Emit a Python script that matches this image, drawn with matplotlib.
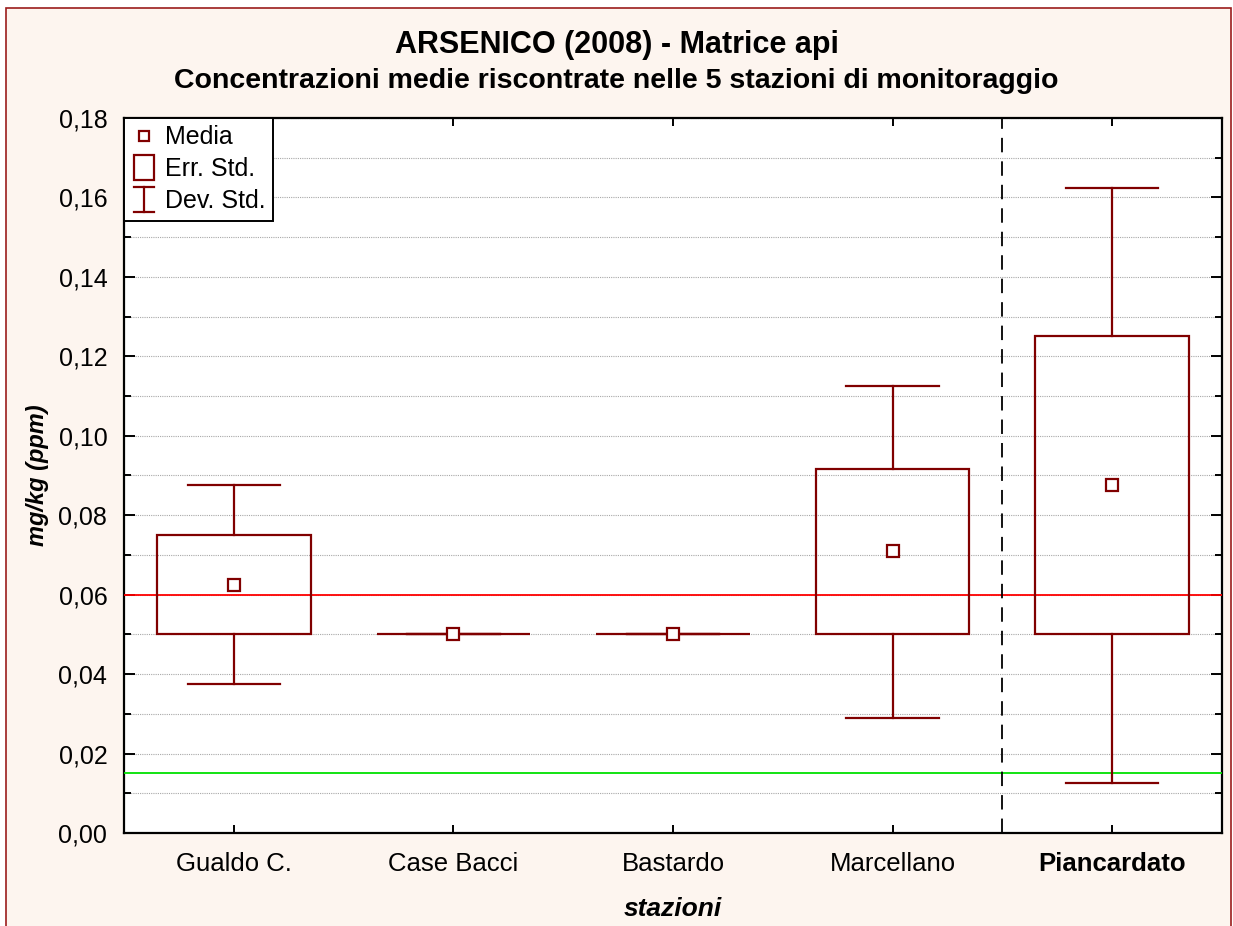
import matplotlib
matplotlib.use("Agg")
import matplotlib.pyplot as plt
from matplotlib.patches import Rectangle
from matplotlib.lines import Line2D
from matplotlib.legend_handler import HandlerBase
from matplotlib.ticker import MultipleLocator, FuncFormatter

plt.rcParams['font.family'] = ['Liberation Sans', 'DejaVu Sans']

# Station data: mean, standard error box bounds, standard deviation whiskers
stations = ["Gualdo C.", "Case Bacci", "Bastardo", "Marcellano", "Piancardato"]
mean = [0.0625, 0.050, 0.050, 0.071, 0.0875]
se_low = [0.050, 0.050, 0.050, 0.050, 0.050]
se_high = [0.075, 0.050, 0.050, 0.0917, 0.125]
sd_low = [0.0375, 0.050, 0.050, 0.029, 0.0125]
sd_high = [0.0875, 0.050, 0.050, 0.1125, 0.1625]

limit_red = 0.060
limit_green = 0.015
y_ticks = [0.00, 0.02, 0.04, 0.06, 0.08, 0.10, 0.12, 0.14, 0.16, 0.18]

DARK = "#800000"

fig = plt.figure(figsize=(12.33, 9.26), dpi=100)
fig.patch.set_facecolor("white")
fig.patches.append(Rectangle((6 / 1233, -0.01), (1231 - 6) / 1233, 1.01 - 8 / 926,
                             transform=fig.transFigure, facecolor="#FDF5EF",
                             edgecolor="#9B1C1C", linewidth=1.2, zorder=-10))

ax = fig.add_axes([124 / 1233, 1 - 833 / 926, (1222 - 124) / 1233, (833 - 118) / 926])
ax.set_facecolor("white")

xs = list(range(1, len(stations) + 1))
box_hw = 0.35
cap_hw = 0.21
for x, m, lo, hi, dlo, dhi in zip(xs, mean, se_low, se_high, sd_low, sd_high):
    ax.add_patch(Rectangle((x - box_hw, lo), 2 * box_hw, hi - lo, facecolor="none",
                           edgecolor=DARK, linewidth=1.6, zorder=4))
    ax.plot([x, x], [hi, dhi], color=DARK, lw=1.6, zorder=4)
    ax.plot([x, x], [lo, dlo], color=DARK, lw=1.6, zorder=4)
    ax.plot([x - cap_hw, x + cap_hw], [dhi, dhi], color=DARK, lw=1.6, zorder=4)
    ax.plot([x - cap_hw, x + cap_hw], [dlo, dlo], color=DARK, lw=1.6, zorder=4)
    ax.plot([x], [m], marker="s", markersize=8.5, markerfacecolor="white",
            markeredgecolor=DARK, markeredgewidth=1.6, zorder=6)

ax.axhline(limit_red, color="#FF0000", lw=1.3, zorder=3)
ax.axhline(limit_green, color="#00E000", lw=1.3, zorder=3)
ax.axvline(4.5, color="black", lw=1.3, dashes=(8, 5), zorder=3)

ax.set_xlim(0.5, 5.5)
ax.set_ylim(0, 0.18)
ax.set_yticks(y_ticks)
ax.yaxis.set_minor_locator(MultipleLocator(0.01))
ax.yaxis.set_major_formatter(FuncFormatter(lambda v, p: f"{v:.2f}".replace(".", ",")))
ax.set_xticks(xs)
ax.set_xticklabels(stations)
ax.get_xticklabels()[-1].set_fontweight("bold")

ax.tick_params(axis="both", which="major", direction="in",
               top=True, right=True, width=1.4, length=8)
ax.tick_params(axis="y", which="major", labelsize=18, pad=12)
ax.tick_params(axis="x", which="major", labelsize=18.5, pad=14, length=6)
ax.tick_params(axis="y", which="minor", direction="in", right=True, width=1.4, length=5)

ax.grid(True, axis="y", which="both", color="#A8A8A8", linestyle=(0, (1, 1)), lw=0.8)
ax.set_axisbelow(True)
for sp in ax.spines.values():
    sp.set_linewidth(1.6)
    sp.set_color("black")

ax.set_ylabel("mg/kg (ppm)", fontsize=17, fontweight="bold", fontstyle="italic", labelpad=7)
ax.set_xlabel("stazioni", fontsize=19, fontweight="bold", fontstyle="italic", labelpad=15)

fig.text(0.5, 1 - 45 / 926, "ARSENICO (2008) - Matrice api", ha="center", va="center",
         fontsize=22, fontweight="bold")
fig.text(0.5, 1 - 81 / 926, "Concentrazioni medie riscontrate nelle 5 stazioni di monitoraggio",
         ha="center", va="center", fontsize=20.5, fontweight="bold")


class MeanHandler(HandlerBase):
    def create_artists(self, legend, orig, xd, yd, w, h, fs, trans):
        ln = Line2D([xd + w / 2], [yd + h / 2], marker="s", markersize=7,
                    markerfacecolor="white", markeredgecolor=DARK, markeredgewidth=1.6,
                    linestyle="none", transform=trans)
        return [ln]


class BoxHandler(HandlerBase):
    def create_artists(self, legend, orig, xd, yd, w, h, fs, trans):
        bw, bh = 15, 18
        r = Rectangle((xd + w / 2 - bw / 2, yd + h / 2 - bh / 2), bw, bh, facecolor="none",
                      edgecolor=DARK, lw=1.6, transform=trans)
        return [r]


class WhiskerHandler(HandlerBase):
    def create_artists(self, legend, orig, xd, yd, w, h, fs, trans):
        cx, cy, hh, cw = xd + w / 2, yd + h / 2, 9, 7.5
        return [
            Line2D([cx, cx], [cy - hh, cy + hh], color=DARK, lw=1.6, transform=trans),
            Line2D([cx - cw, cx + cw], [cy + hh, cy + hh], color=DARK, lw=1.6, transform=trans),
            Line2D([cx - cw, cx + cw], [cy - hh, cy - hh], color=DARK, lw=1.6, transform=trans),
        ]


class Tag:
    pass


h_mean, h_box, h_wh = Tag(), Tag(), Tag()
leg = ax.legend([h_mean, h_box, h_wh], ["Media", "Err. Std.", "Dev. Std."],
                handler_map={h_mean: MeanHandler(), h_box: BoxHandler(), h_wh: WhiskerHandler()},
                loc="upper left", bbox_to_anchor=(0, 1), borderaxespad=0, fontsize=18,
                frameon=True, fancybox=False, handlelength=1.0, handletextpad=0.35,
                labelspacing=0.32, borderpad=0.3)
leg.get_frame().set_edgecolor("black")
leg.get_frame().set_linewidth(1.4)
leg.get_frame().set_alpha(1)
leg.set_zorder(10)

fig.savefig("out.png", dpi=100, facecolor=fig.get_facecolor())
